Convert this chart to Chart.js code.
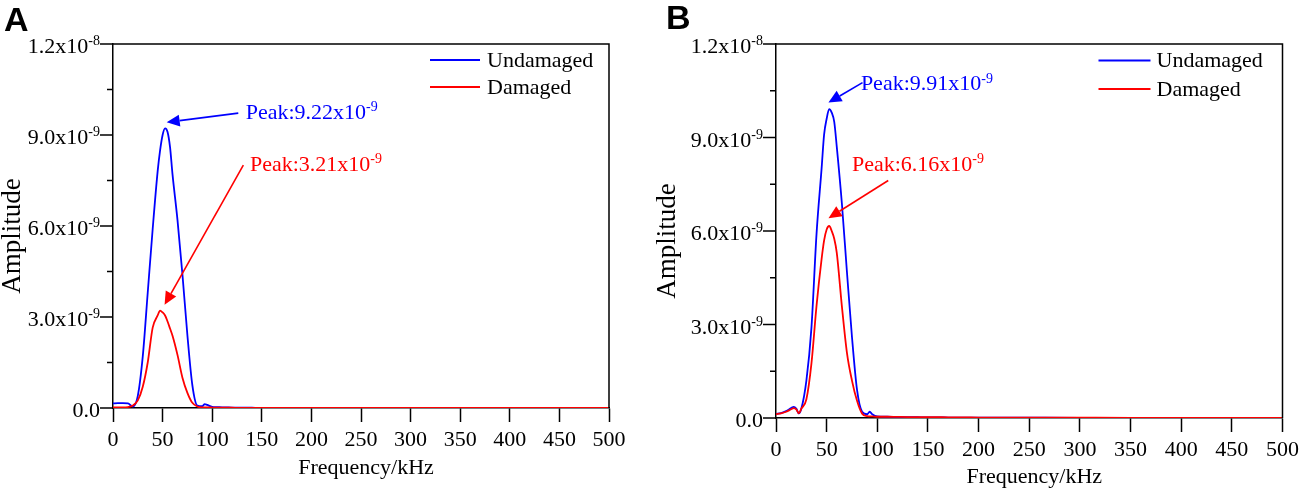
<!DOCTYPE html>
<html>
<head>
<meta charset="utf-8">
<script src="https://cdn.jsdelivr.net/npm/chart.js@4.4.1/dist/chart.umd.min.js"></script>
<style>
  body { margin: 0; background: #fff; }
  .panel { position: absolute; top: 0; width: 652px; height: 488px; }
</style>
</head>
<body>
<div class="panel" style="left:0"><canvas id="chartA" width="652" height="488"></canvas></div>
<div class="panel" style="left:652px"><canvas id="chartB" width="652" height="488"></canvas></div>
<script>
// amplitudes are in units of 1e-9
const freqA = [0, 5, 10, 15, 20, 25, 30, 35, 40, 45, 47.5, 50, 52.5, 55, 57.5, 60, 65, 70, 75, 80,
  85, 90, 92.5, 95, 100, 105, 110, 120, 130, 140, 150, 200, 250, 300, 350, 400, 450, 500];
const undamagedA = [0.15, 0.16, 0.16, 0.15, 0.05, 0.4, 1.7, 3.8, 5.9, 7.8, 8.5, 9.0, 9.22, 9.1, 8.6, 7.7, 6.2, 4.4, 2.4, 0.75,
  0.08, 0.06, 0.13, 0.1, 0.04, 0.03, 0.02, 0.015, 0.01, 0.008, 0.006, 0.005, 0.004, 0.004, 0.003, 0.003, 0.003, 0.003];
const damagedA = [0.02, 0.02, 0.02, 0.03, 0.08, 0.25, 0.7, 1.5, 2.65, 3.05, 3.21, 3.15, 3.05, 2.85, 2.62, 2.38, 1.75, 1.0, 0.5, 0.17,
  0.05, 0.02, 0.02, 0.02, 0.015, 0.01, 0.01, 0.008, 0.006, 0.005, 0.004, 0.003, 0.003, 0.003, 0.003, 0.003, 0.003, 0.003];

const freqB = [0, 5, 10, 15, 17.5, 20, 22.5, 25, 30, 35, 40, 45, 47.5, 50, 52.5, 55, 57.5, 60, 65, 70,
  75, 80, 85, 90, 92.5, 95, 100, 110, 120, 130, 140, 150, 160, 170, 200, 250, 300, 350, 400, 450, 500];
const undamagedB = [0.13, 0.16, 0.22, 0.32, 0.36, 0.3, 0.15, 0.3, 1.2, 2.9, 5.9, 8.0, 9.1, 9.6, 9.91, 9.8, 9.5, 8.7, 6.9, 4.7,
  2.6, 0.9, 0.2, 0.12, 0.2, 0.12, 0.05, 0.04, 0.03, 0.03, 0.025, 0.02, 0.02, 0.015, 0.01, 0.008, 0.006, 0.005, 0.005, 0.004, 0.004];
const damagedB = [0.12, 0.15, 0.2, 0.28, 0.32, 0.28, 0.15, 0.3, 0.6, 1.75, 3.6, 5.1, 5.7, 6.05, 6.16, 6.0, 5.75, 5.3, 3.6, 2.1,
  1.2, 0.55, 0.14, 0.06, 0.05, 0.05, 0.04, 0.04, 0.035, 0.03, 0.03, 0.03, 0.025, 0.02, 0.015, 0.01, 0.008, 0.006, 0.005, 0.005, 0.005];

const seriesNames = ['Undamaged', 'Damaged'];
const xTicks = [0, 50, 100, 150, 200, 250, 300, 350, 400, 450, 500];
const yMajor = [0, 3, 6, 9, 12];
const yMinor = [1.5, 4.5, 7.5, 10.5];
const yTickMain = ['0.0', '3.0x10', '6.0x10', '9.0x10', '1.2x10'];
const yTickSup = ['', '-9', '-9', '-9', '-8'];

const BLUE = '#0000ff';
const RED = '#ff0000';
const SERIF = '"Liberation Serif", "Times New Roman", serif';

// text with a superscript, anchored at its left (align 'left') or right end
function supText(ctx, x, y, main, sup, size, align) {
  const mainFont = size + 'px ' + SERIF;
  const supFont = Math.round(size * 0.62) + 'px ' + SERIF;
  ctx.font = mainFont;
  const wm = ctx.measureText(main).width;
  ctx.font = supFont;
  const ws = sup ? ctx.measureText(sup).width : 0;
  const x0 = align === 'right' ? x - wm - ws : x;
  ctx.textAlign = 'left';
  ctx.textBaseline = 'alphabetic';
  ctx.font = mainFont;
  ctx.fillText(main, x0, y);
  if (sup) {
    ctx.font = supFont;
    ctx.fillText(sup, x0 + wm, y - size * 0.36);
  }
}

function arrow(ctx, x1, y1, x2, y2, color) {
  const ang = Math.atan2(y2 - y1, x2 - x1);
  const len = 13, half = 6;
  const bx = x2 - len * Math.cos(ang), by = y2 - len * Math.sin(ang);
  ctx.strokeStyle = color;
  ctx.fillStyle = color;
  ctx.lineWidth = 1.6;
  ctx.beginPath();
  ctx.moveTo(x1, y1);
  ctx.lineTo(bx, by);
  ctx.stroke();
  ctx.beginPath();
  ctx.moveTo(x2, y2);
  ctx.lineTo(bx + half * Math.sin(ang), by - half * Math.cos(ang));
  ctx.lineTo(bx - half * Math.sin(ang), by + half * Math.cos(ang));
  ctx.closePath();
  ctx.fill();
}

const framePlugin = {
  id: 'frame',
  afterDraw(chart, args, o) {
    const ctx = chart.ctx;
    const a = chart.chartArea;
    const xs = chart.scales.x, ys = chart.scales.y;
    ctx.save();

    // top and right border of the box
    ctx.strokeStyle = '#000';
    ctx.lineWidth = 1.5;
    ctx.beginPath();
    ctx.moveTo(a.left, a.top);
    ctx.lineTo(a.right, a.top);
    ctx.lineTo(a.right, a.bottom);
    ctx.stroke();

    // y ticks (outside) and labels
    ctx.fillStyle = '#000';
    yMajor.forEach((v, i) => {
      const py = ys.getPixelForValue(v);
      ctx.beginPath();
      ctx.moveTo(a.left - 13, py);
      ctx.lineTo(a.left, py);
      ctx.stroke();
      supText(ctx, a.left - 13, py + 9, yTickMain[i], yTickSup[i], 22, 'right');
    });
    yMinor.forEach(v => {
      const py = ys.getPixelForValue(v);
      ctx.beginPath();
      ctx.moveTo(a.left - 6, py);
      ctx.lineTo(a.left, py);
      ctx.stroke();
    });

    // axis titles
    ctx.textAlign = 'center';
    ctx.textBaseline = 'middle';
    ctx.font = '22px ' + SERIF;
    ctx.fillText('Frequency/kHz', (a.left + a.right) / 2 + 5, a.bottom + o.xTitleDy);
    ctx.save();
    ctx.translate(o.yTitleX, (a.top + a.bottom) / 2 + 10);
    ctx.rotate(-Math.PI / 2);
    ctx.font = '27px ' + SERIF;
    ctx.fillText('Amplitude', 0, 0);
    ctx.restore();

    // legend
    chart.data.datasets.forEach((ds, i) => {
      const y = a.top + o.legend.rows[i];
      ctx.strokeStyle = ds.borderColor;
      ctx.lineWidth = 2;
      ctx.beginPath();
      ctx.moveTo(a.right - o.legend.x0, y);
      ctx.lineTo(a.right - o.legend.x1, y);
      ctx.stroke();
      ctx.fillStyle = '#000';
      ctx.font = '22px ' + SERIF;
      ctx.textAlign = 'left';
      ctx.textBaseline = 'middle';
      ctx.fillText(ds.label, a.right - o.legend.xt, y + 1);
    });

    // peak annotations
    o.notes.forEach(n => {
      const px = f => xs.getPixelForValue(f);
      const py = v => ys.getPixelForValue(v);
      arrow(ctx, px(n.tail[0]), py(n.tail[1]), px(n.tip[0]), py(n.tip[1]), n.color);
      ctx.fillStyle = n.color;
      supText(ctx, px(n.text[0]), py(n.text[1]), n.main, n.sup, 22, 'left');
    });

    // panel letter
    ctx.fillStyle = '#000';
    ctx.font = 'bold 34px "Liberation Sans", Arial, sans-serif';
    ctx.textAlign = 'left';
    ctx.textBaseline = 'alphabetic';
    ctx.fillText(o.letter, o.letterPos[0], o.letterPos[1]);
    ctx.restore();
  }
};

function makeChart(id, freq, undamaged, damaged, box, frame) {
  const ctx = document.getElementById(id).getContext('2d');
  return new Chart(ctx, {
    type: 'line',
    data: {
      datasets: [
        {
          label: seriesNames[0],
          data: freq.map((f, i) => ({ x: f, y: undamaged[i] })),
          borderColor: BLUE,
          borderWidth: 1.8,
          order: 2,
        },
        {
          label: seriesNames[1],
          data: freq.map((f, i) => ({ x: f, y: damaged[i] })),
          borderColor: RED,
          borderWidth: 1.8,
          order: 1,
        },
      ]
    },
    options: {
      responsive: false,
      animation: false,
      events: [],
      elements: {
        point: { radius: 0 },
        line: { cubicInterpolationMode: 'monotone', fill: false }
      },
      layout: {
        padding: { left: 0, right: 652 - box.right, top: box.top, bottom: 0 }
      },
      scales: {
        x: {
          type: 'linear',
          min: 0,
          max: 500,
          afterBuildTicks: s => { s.ticks = xTicks.map(v => ({ value: v })); },
          afterFit: s => { s.height = 488 - box.bottom; },
          ticks: {
            color: '#000',
            padding: 5,
            maxRotation: 0,
            font: { family: SERIF, size: 22 }
          },
          grid: { drawOnChartArea: false, tickLength: 14, tickColor: '#000', tickWidth: 1.5 },
          border: { color: '#000', width: 1.5 }
        },
        y: {
          min: 0,
          max: 12,
          afterFit: s => { s.width = box.left; },
          ticks: { display: false },
          grid: { drawOnChartArea: false, drawTicks: false },
          border: { color: '#000', width: 1.5 }
        }
      },
      plugins: {
        legend: { display: false },
        tooltip: { enabled: false },
        frame: frame
      }
    },
    plugins: [framePlugin]
  });
}

makeChart('chartA', freqA, undamagedA, damagedA,
  { left: 113, right: 609, top: 44, bottom: 408 },
  {
    letter: 'A', letterPos: [4, 31],
    yTitleX: 13, xTitleDy: 60,
    legend: { x0: 179, x1: 129, xt: 122, rows: [16, 43] },
    notes: [
      { main: 'Peak:9.22x10', sup: '-9', color: BLUE, text: [133.8, 9.52], tail: [126.3, 9.72], tip: [54.1, 9.42] },
      { main: 'Peak:3.21x10', sup: '-9', color: RED, text: [138.1, 7.82], tail: [131.4, 8.01], tip: [52, 3.40] }
    ]
  });

makeChart('chartB', freqB, undamagedB, damagedB,
  { left: 124, right: 635, top: 44, bottom: 418 },
  {
    letter: 'B', letterPos: [14, 29],
    yTitleX: 16, xTitleDy: 59,
    legend: { x0: 184, x1: 132, xt: 126, rows: [16.5, 45] },
    notes: [
      { main: 'Peak:9.91x10', sup: '-9', color: BLUE, text: [83.8, 10.51], tail: [85.4, 10.76], tip: [51.8, 10.12] },
      { main: 'Peak:6.16x10', sup: '-9', color: RED, text: [75, 7.94], tail: [110.8, 7.62], tip: [51.8, 6.41] }
    ]
  });
</script>
</body>
</html>
